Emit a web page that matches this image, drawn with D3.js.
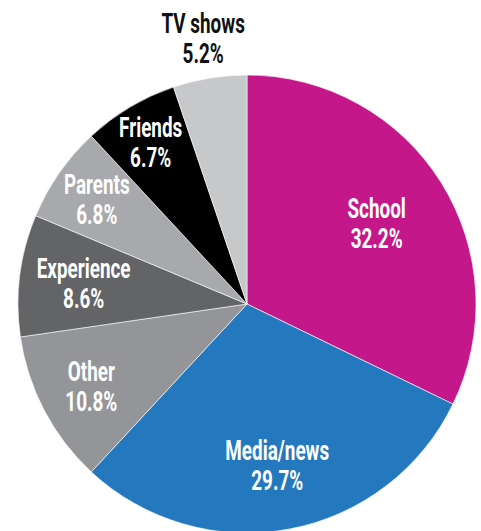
<!DOCTYPE html>
<html>
<head>
<meta charset="utf-8">
<script src="https://cdn.jsdelivr.net/npm/d3@7"></script>
<style>
  html, body { margin: 0; padding: 0; background: #ffffff; }
  svg { display: block; }
  .lbl { font-family: Roboto, "Noto Sans", sans-serif; font-weight: 700; font-size: 27px; text-anchor: middle; }
</style>
</head>
<body>
<svg id="chart" width="481" height="531"></svg>
<script>
// Where people learned about the topic (share of responses, %)
const categories = ["School", "Media/news", "Other", "Experience", "Parents", "Friends", "TV shows"];
const shares = [32.2, 29.7, 10.8, 8.6, 6.8, 6.7, 5.2];

// Slice fills and label ink
const sliceColors = ["#c4178a", "#2479be", "#939598", "#636466", "#a7a9ac", "#000000", "#c7c8ca"];
const labelInk = ["#ffffff", "#ffffff", "#ffffff", "#ffffff", "#ffffff", "#ffffff", "#111111"];
// Label distance from the centre, as a fraction of the radius
const labelRadius = [0.668, 0.717, 0.768, 0.719, 0.80, 0.822, 1.178];

const width = 481, height = 531;
const cx = 247, cy = 304, radius = 229;
const condense = 0.70; // horizontal squeeze for a condensed look

const svg = d3.select("#chart");
const g = svg.append("g").attr("transform", `translate(${cx},${cy})`);

const pie = d3.pie().sort(null).value(d => d);
const arc = d3.arc().innerRadius(0).outerRadius(radius);
const arcs = pie(shares);

g.selectAll("path.slice")
  .data(arcs)
  .join("path")
  .attr("class", "slice")
  .attr("d", arc)
  .attr("fill", (d, i) => sliceColors[i])
  .attr("stroke", "#ffffff")
  .attr("stroke-width", 0.6)
  .attr("stroke-linejoin", "round");

const fmt = d3.format(".1f");
const labels = g.selectAll("text.lbl")
  .data(arcs)
  .join("text")
  .attr("class", "lbl")
  .attr("fill", (d, i) => labelInk[i])
  .attr("transform", (d, i) => {
    const a = (d.startAngle + d.endAngle) / 2;
    const r = radius * labelRadius[i];
    return `translate(${r * Math.sin(a)},${-r * Math.cos(a)}) scale(${condense},1)`;
  });

labels.append("tspan").attr("x", 0).attr("y", -5).text((d, i) => categories[i]);
labels.append("tspan").attr("x", 0).attr("y", 25).text(d => fmt(d.data) + "%");
</script>
</body>
</html>
